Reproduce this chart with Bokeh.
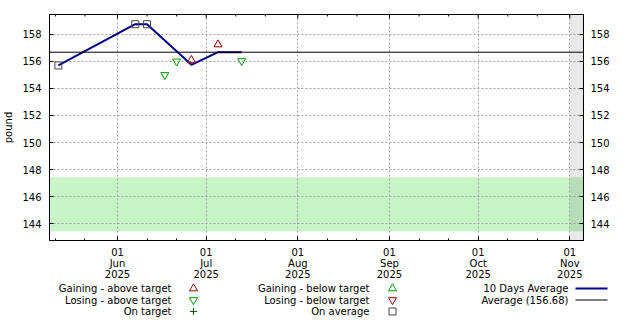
import datetime as dt
from bokeh.plotting import figure
from bokeh.layouts import column, row
from bokeh.models import Range1d, LinearAxis, FixedTicker, Span, BoxAnnotation
from bokeh.core.properties import value
from bokeh.embed import file_html
from bokeh.resources import INLINE


def ms(s):
    return int(dt.datetime.fromisoformat(s).replace(tzinfo=dt.timezone.utc).timestamp() * 1000)


# ---------------- data ----------------
avg_dates = ["2025-05-12", "2025-06-07", "2025-06-11", "2025-06-26", "2025-07-05", "2025-07-13"]
avg_values = [155.7, 158.75, 158.75, 155.75, 156.68, 156.68]

on_avg_dates = ["2025-05-12", "2025-06-07", "2025-06-11"]
on_avg_values = [155.7, 158.75, 158.75]

lose_above_dates = ["2025-06-17", "2025-06-21", "2025-07-13"]
lose_above_values = [155.0, 156.0, 156.03]

gain_above_dates = ["2025-06-26", "2025-07-05"]
gain_above_values = [156.1, 157.25]

overall_average = 156.68
target_low = 143.43
target_high = 147.43
future_start = "2025-11-01"

x_start = "2025-05-09"
x_end = "2025-11-05T15:00:00"
y_start, y_end = 142.75, 159.47

month_ticks = ["2025-06-01", "2025-07-01", "2025-08-01", "2025-09-01", "2025-10-01", "2025-11-01"]
month_labels = ["01\nJun\n2025", "01\nJul\n2025", "01\nAug\n2025", "01\nSep\n2025", "01\nOct\n2025", "01\nNov\n2025"]
minor_tick_dates = ["2025-05-11", "2025-05-21", "2025-06-11", "2025-06-21", "2025-07-11", "2025-07-21",
                    "2025-08-11", "2025-08-21", "2025-09-11", "2025-09-21", "2025-10-11", "2025-10-21"]
y_ticks = [144, 146, 148, 150, 152, 154, 156, 158]

legend_col1 = ["Gaining - above target", "Losing - above target", "On target"]
legend_col2 = ["Gaining - below target", "Losing - below target", "On average"]
legend_col3 = ["10 Days Average", "Average (%.2f)" % overall_average]

FONT = "DejaVu Sans"
FS = "10px"
RED = "#990000"
GREEN = "#009900"
DKGREEN = "#006600"
NAVY = "#000088"
SQ = "#444444"

FRAME_H = 228

# ---------------- main plot ----------------
p = figure(width=640, height=282,
           x_range=Range1d(ms(x_start), ms(x_end)),
           y_range=Range1d(y_start, y_end),
           output_backend="svg", toolbar_location=None,
           min_border_left=49, min_border_right=57, min_border_top=14, min_border_bottom=40)
p.outline_line_color = "black"
p.outline_line_width = 1
p.background_fill_color = "white"
p.extra_y_ranges = {"px": Range1d(0, FRAME_H)}

month_ms = [ms(d) for d in month_ticks]
minor_ms = [ms(d) for d in minor_tick_dates]
xticker = FixedTicker(ticks=month_ms, minor_ticks=minor_ms)
yticker = FixedTicker(ticks=y_ticks, minor_ticks=[])


def style_axis(ax):
    ax.axis_line_color = "black"
    ax.major_tick_line_color = "black"
    ax.minor_tick_line_color = "black"
    ax.major_tick_in = 4
    ax.major_tick_out = 0
    ax.minor_tick_in = 2
    ax.minor_tick_out = 0
    ax.major_label_text_font = FONT
    ax.major_label_text_font_size = FS
    ax.major_label_text_color = "black"
    ax.axis_label_text_font = FONT
    ax.axis_label_text_font_size = FS
    ax.axis_label_text_font_style = "normal"
    ax.axis_label_text_color = "black"


xa = p.xaxis[0]
xa.ticker = xticker
xa.major_label_overrides = {m: lab for m, lab in zip(month_ms, month_labels)}
style_axis(xa)
xa.major_label_standoff = 6
xa.major_label_text_line_height = 1.0

ya = p.yaxis[0]
ya.ticker = yticker
style_axis(ya)
ya.axis_label = "pound"
ya.major_label_standoff = 8
ya.axis_label_standoff = 5
ya.axis_label_text_line_height = 1.0

ra = LinearAxis(ticker=yticker)
style_axis(ra)
ra.major_label_standoff = 7
p.add_layout(ra, "right")

# top-side ticks (no labels), drawn in frame pixel units
p.segment(x0=month_ms, y0=[FRAME_H] * len(month_ms), x1=month_ms, y1=[FRAME_H - 4] * len(month_ms),
          y_range_name="px", line_color="black", line_width=1)
p.segment(x0=minor_ms, y0=[FRAME_H] * len(minor_ms), x1=minor_ms, y1=[FRAME_H - 2] * len(minor_ms),
          y_range_name="px", line_color="black", line_width=1)

for g in (p.xgrid[0], p.ygrid[0]):
    g.grid_line_color = "#a0a0a0"
    g.grid_line_dash = "2 2"
    g.grid_line_width = 1
p.xgrid[0].ticker = xticker
p.ygrid[0].ticker = yticker

# bands
p.add_layout(BoxAnnotation(bottom=target_low, top=target_high, fill_color="#c8f5c8", fill_alpha=1.0,
                           line_alpha=0, level="image"))
p.add_layout(BoxAnnotation(left=ms(future_start), fill_color="black", fill_alpha=0.09,
                           line_alpha=0, level="image"))

# average line
p.add_layout(Span(location=overall_average, dimension="width", line_color="black", line_width=1))

# 10 day average
p.line([ms(d) for d in avg_dates], avg_values, line_color=NAVY, line_width=2)

p.scatter([ms(d) for d in on_avg_dates], on_avg_values, marker="square", size=7,
          fill_alpha=0, line_color=SQ, line_width=1)
p.scatter([ms(d) for d in lose_above_dates], lose_above_values, marker="inverted_triangle", size=8,
          fill_alpha=0, line_color=GREEN, line_width=1)
p.scatter([ms(d) for d in gain_above_dates], gain_above_values, marker="triangle", size=8,
          fill_alpha=0, line_color=RED, line_width=1)

# ---------------- legend (coordinates = page pixels) ----------------
leg = figure(width=640, height=38, x_range=Range1d(0, 640), y_range=Range1d(38, 0),
             output_backend="svg", toolbar_location=None,
             min_border_left=0, min_border_right=0, min_border_top=0, min_border_bottom=0,
             x_axis_location=None, y_axis_location=None)
leg.outline_line_color = None
leg.xgrid.visible = False
leg.ygrid.visible = False

rows = [6, 17.5, 29]
txt = dict(text_font=value(FONT), text_font_size=FS, text_align="right",
           text_baseline="middle", text_color="black")
leg.text(x=[171] * 3, y=rows, text=legend_col1, **txt)
leg.text(x=[369] * 3, y=rows, text=legend_col2, **txt)
leg.text(x=[568] * 2, y=rows[:2], text=legend_col3, **txt)

leg.scatter([193], [rows[0]], marker="triangle", size=8, fill_alpha=0, line_color=RED)
leg.scatter([193], [rows[1]], marker="inverted_triangle", size=8, fill_alpha=0, line_color=GREEN)
leg.scatter([193], [rows[2]], marker="cross", size=7, line_color=DKGREEN, line_width=1)
leg.scatter([392], [rows[0]], marker="triangle", size=8, fill_alpha=0, line_color=GREEN)
leg.scatter([392], [rows[1]], marker="inverted_triangle", size=8, fill_alpha=0, line_color=RED)
leg.scatter([392], [rows[2]], marker="square", size=7, fill_alpha=0, line_color=SQ)
leg.segment(x0=[575], y0=[rows[0]], x1=[607], y1=[rows[0]], line_color=NAVY, line_width=2)
leg.segment(x0=[575], y0=[rows[1]], x1=[607], y1=[rows[1]], line_color="black", line_width=1)

layout = column(p, row(leg, spacing=0), spacing=0)
open("out.html", "w").write(file_html(layout, INLINE))
